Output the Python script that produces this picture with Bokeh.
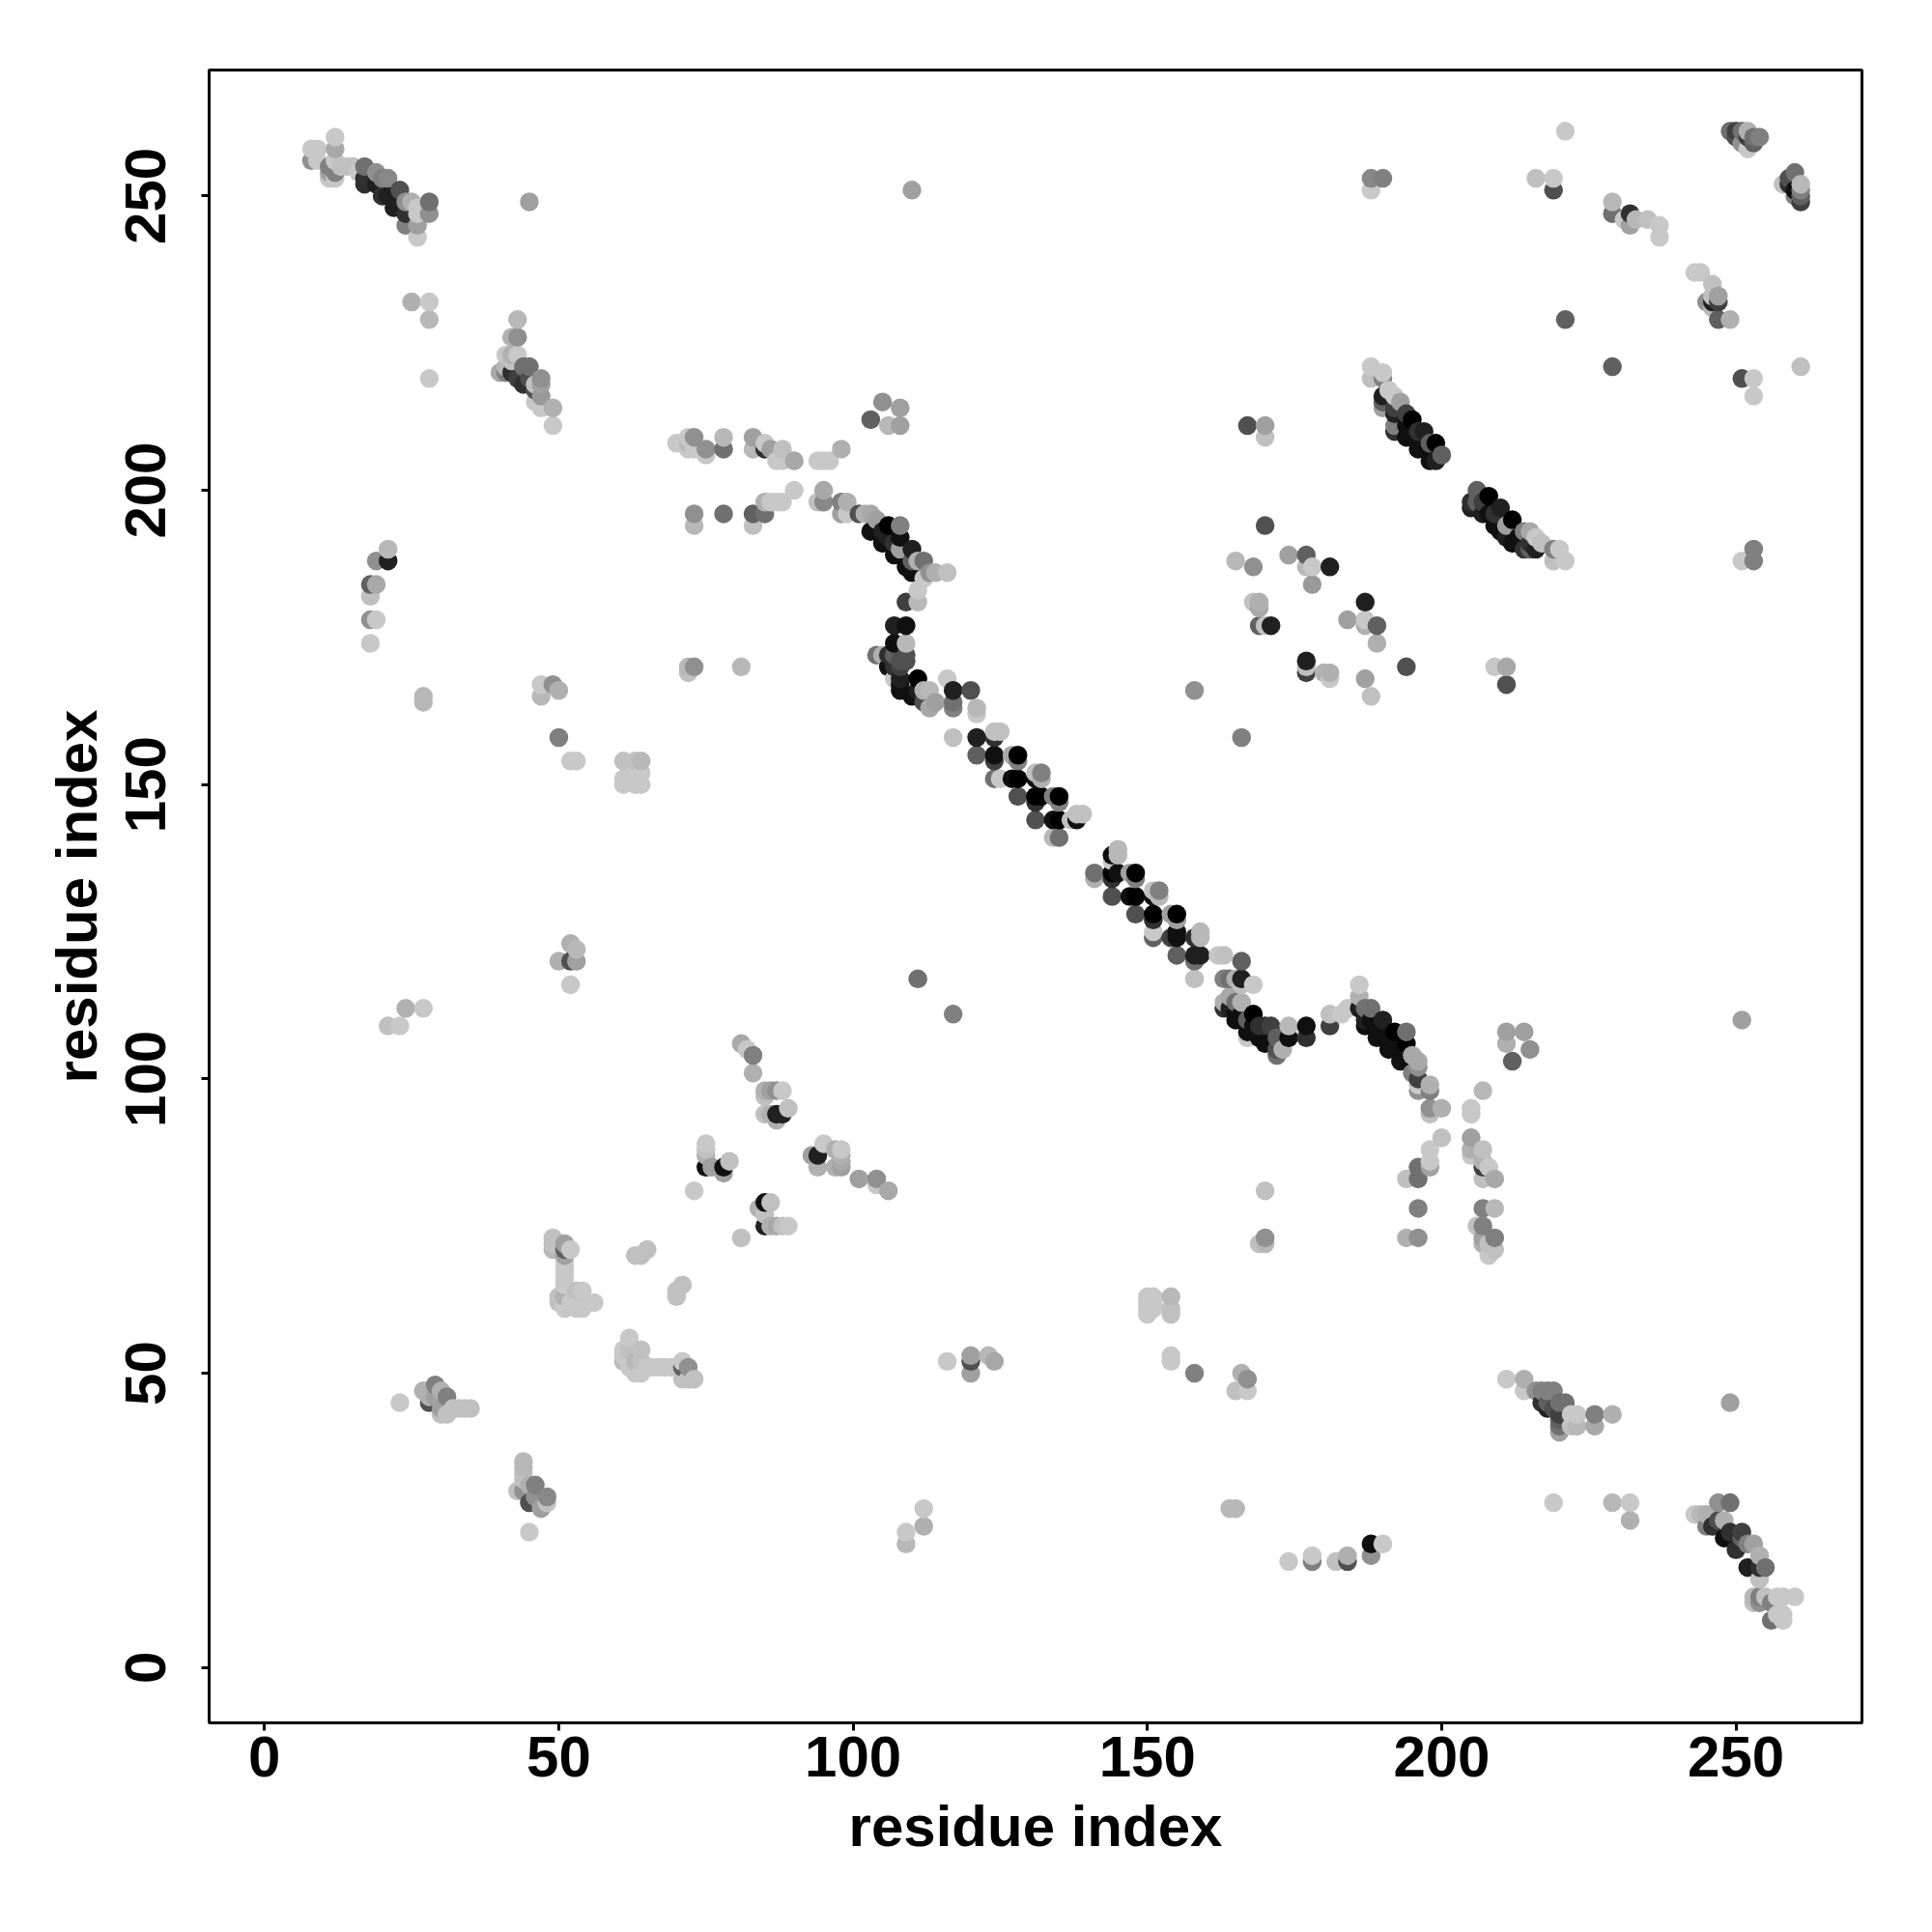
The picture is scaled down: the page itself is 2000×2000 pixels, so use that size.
from bokeh.plotting import figure
from bokeh.models import Range1d, FixedTicker, ColumnDataSource
from bokeh.embed import file_html
from bokeh.resources import INLINE

# (residue on x, residue on y, grey level 0-255)
top_left = [(8,258,0xc8),(9,258,0xc8),(8,256,0x90),(9,256,0xc8),(12,260,0xc8),(12,258,0xa8),(11,255,0x80),(11,254,0xa0),(11,253,0xc8),(12,256,0xc8),(12,254,0x80),(12,253,0xc8),(13,255,0xc0),(14,255,0xc0),(15,255,0xc0),(16,254,0xc8),
 (17,255,0x70),(17,253,0x30),(17,252,0x30),(19,254,0x90),(19,252,0x20),(20,253,0x80),(20,250,0x30),(21,253,0x88),(21,250,0x20),(22,250,0x20),(22,248,0x20),(23,251,0x50),(24,249,0x90),(24,247,0x30),(24,245,0x80),(25,249,0xb0),
 (26,248,0xc8),(26,247,0xc8),(26,245,0xa0),(26,243,0xc8),(28,249,0x70),(28,247,0x90)]
top_stray = [(45,249,0xa0),(25,232,0xb0),(28,232,0xc8),(28,229,0xb8),(28,219,0xc8),(110,251,0xa0)]
cluster_43 = [(43,229,0xb8),(42,226,0xb0),(43,226,0x90),(41,223,0xc8),(42,223,0xb0),(43,223,0xc8),(42,222,0xc0),(41,221,0xb8),(40,220,0xa8),(41,220,0x80),(42,220,0x30),(43,219,0x40),
 (44,218,0x30),(44,221,0x70),(45,221,0x70),(45,219,0x50),(46,217,0x50),(46,218,0xc0),(47,219,0x90),(47,218,0xa0),(47,216,0x99),(47,214,0xc8),(46,215,0xc8),(49,214,0xb0),(49,211,0xc8)]
row_208 = [(70,208,0xc8),(71,208,0xc8),(72,209,0xc8),(72,207,0xc8),(72,208,0xb8),(73,209,0x90),(73,207,0xc8),(75,207,0x90),(75,206,0xc8),(78,209,0xb8),(78,207,0x70),(83,209,0xa0),(83,207,0xb8),(85,208,0xc8),(85,207,0x30),(86,207,0xa0),(88,207,0xc0),(87,205,0xc8),(88,205,0xc8),(90,205,0xa8),(94,205,0xc8),(96,205,0xc8),(95,205,0xc8),(98,207,0xb0)]
row_198 = [(90,200,0xc8),(94,198,0xc0),(95,200,0xa8),(95,198,0x88),(85,198,0xb0),(86,198,0xc8),(87,198,0xc8),(88,198,0xc8),(83,196,0x60),(85,196,0x70),(83,194,0xc0),(73,196,0x90),(73,194,0xb8),(78,196,0x70),(98,198,0x80),(99,198,0xb0),(98,196,0xa0),(99,196,0xc8)]
left_arc = [(21,190,0xb8),(21,188,0x20),(19,188,0x90),(18,184,0x60),(19,184,0xa8),(18,182,0xc0),(18,178,0x90),(19,178,0xc8),(18,174,0xc8)]
left_mid = [(27,165,0xb8),(27,164,0xb8),(47,167,0xc8),(49,167,0x90),(50,166,0xb0),(47,165,0xb8),(50,158,0x80),(72,169,0xc0),(72,170,0xb8),(73,170,0x90),(81,170,0xb8),
 (52,154,0xc8),(53,154,0xc8),(61,154,0xc0),(63,154,0xc0),(64,154,0xb8),(61,150,0xc8),(63,150,0xc8),(64,150,0xc8),(61,151,0xc8),(63,152,0xc8),(64,152,0xc8)]
upper_mid = [(103,212,0x60),(105,215,0x90),(108,214,0xa0),(106,211,0xb8),(108,211,0xa0)]
top_right_a = [(188,253,0x88),(190,253,0x80),(188,251,0xc8),(221,261,0xc8),(216,253,0xc0),(219,253,0xc8),(219,251,0x50),(229,249,0xb8),(229,247,0x70),(232,247,0x30),(233,246,0xb8),(232,245,0xa0),(231,246,0xc8),(235,246,0xc0),(237,245,0xc8),(237,243,0xc8)]
top_right_b = [(249,261,0x70),(250,261,0x40),(251,261,0x70),(252,261,0xb0),(250,260,0x50),(251,259,0x90),(252,258,0xc8),(252,260,0x40),(253,259,0x60),(254,260,0x80),(253,260,0x70),
 (260,254,0x70),(258,252,0xc0),(259,252,0x30),(260,251,0x10),(259,253,0x50),(260,250,0x80),(261,252,0xb8),(261,251,0x80),(261,250,0x60),(261,249,0x40)]
top_right_c = [(243,237,0xc8),(244,237,0xc8),(246,235,0xc0),(246,233,0xc0),(247,233,0xa0),(245,232,0x90),(246,232,0x20),(247,232,0x40),(247,229,0x60),(249,229,0xb0),(246,231,0xb8)]
right_stray = [(221,229,0x60),(229,221,0x60),(251,219,0x50),(253,219,0xc8),(253,216,0xc8),(261,221,0xc0),(253,190,0x80),(253,188,0x80),(251,188,0xc8),(251,110,0xa0),(249,45,0xa0)]
diag_190 = [(188,221,0xc8),(190,220,0xc8),(188,219,0xc0),(190,219,0x80),(190,216,0x20),(190,215,0x60),(190,214,0xa0),(191,217,0xc8),(192,216,0xc8),(193,215,0xa0),(192,214,0x40),(192,213,0x20),(192,211,0x80),(192,210,0x30),(194,213,0x40),(195,212,0x00),(194,209,0x10),(194,211,0x10),(196,210,0x30),(197,210,0x20),(196,207,0x10),(198,208,0x60),(199,208,0x00),(200,206,0x60),(198,207,0x10),(198,205,0x10),(199,205,0x20)]
diag_205 = [(206,200,0x60),(205,198,0x30),(205,197,0x20),(208,199,0x00),(207,196,0x20),(210,197,0x20),(209,194,0x10),(212,195,0x00),(211,192,0x20),(214,193,0x80),(215,193,0xa8),(216,192,0xc8),(217,191,0xc0),(214,190,0x30),(215,191,0x30),(215,190,0x60),(216,190,0x20),(219,190,0x80),(220,190,0xc8),(219,188,0xc0),(221,188,0xc8),(206,198,0x60),(207,198,0x40),(208,196,0x10),(209,196,0x30),(210,193,0x10),(212,191,0x10),(211,194,0xa0),(213,192,0x10)]
middle_ring = [(167,211,0x50),(170,211,0xa0),(170,209,0xc0),(170,194,0x50),(165,188,0xb8),(168,187,0x90),(174,189,0xa0),(177,189,0x60),(177,187,0xb8),(178,187,0xc8),(181,187,0x20),(178,184,0x99),
 (187,181,0x20),(184,178,0xa0),(187,178,0xc8),(187,177,0xb0),(189,177,0x60),(189,174,0xb0),(168,181,0xc0),(169,181,0xb0),(169,180,0xa8),(169,177,0x60),(170,177,0xc0),(171,177,0x20),
 (177,171,0x20),(177,169,0x40),(177,170,0xc0),(180,169,0xb0),(181,169,0xb0),(181,168,0xc8),(187,168,0xa0),(188,165,0xc0),(194,170,0x50),(209,170,0xc8),(211,170,0xa8),(211,167,0x50),(158,166,0x90),(166,158,0x80)]
diag_103 = [(101,196,0x50),(102,196,0xb0),(103,196,0xa8),(104,195,0xa0),(106,194,0x00),(108,194,0x80),(103,193,0x10),(104,193,0x10),(105,193,0x20),(105,191,0x10),(106,192,0x20),(108,192,0x10),(107,191,0x30),(107,189,0x10),(108,190,0xa0),(110,190,0x20),(109,187,0x10),(110,188,0x60),(110,186,0x10),(111,188,0xb0),(112,188,0x70),(113,186,0x90),(114,186,0xb0),(116,186,0xc0),(112,185,0xc8),(111,183,0xc8),(111,181,0xb8),(109,181,0x40)]
diag_107 = [(107,177,0x20),(109,177,0x10),(107,174,0x10),(109,174,0xb8),(104,172,0x70),(105,172,0xb0),(106,172,0x30),(107,172,0x60),(109,172,0x50),(109,171,0x50),(108,171,0x50),(106,170,0x10),(107,170,0x30),(108,170,0x40),(108,168,0x20),(107,168,0xc8),(108,167,0x10),(108,166,0x10),(111,168,0x00),(110,165,0x10),(111,166,0x20),(112,166,0xb0),(113,166,0xb8),(112,164,0x50),(113,163,0xa8),(114,164,0xa0),(116,168,0xc8),(117,166,0x20),(117,164,0x70),(117,163,0x80),(120,166,0x50),(121,163,0xb8),(121,162,0xc8)]
diag_120 = [(117,158,0xc0),(121,158,0x20),(121,155,0x60),(124,159,0xc0),(125,159,0xc0),(124,158,0x30),(124,155,0x10),(124,154,0x40),(127,155,0xa8),(128,155,0x00),(128,154,0x80),(124,151,0x70),(125,151,0xc8),(127,151,0x10),(128,151,0x00),(128,148,0x50),(131,152,0xc0),(132,152,0x80),(132,151,0xb0),(131,151,0x10),(131,148,0x00),(132,148,0x00),(131,147,0x30),(134,148,0x80),(135,148,0x00),(135,147,0x80),(131,144,0x50),(134,144,0x10),(135,144,0x00),(137,144,0xc0),(138,144,0x10),(138,145,0xc0),(139,145,0xc0),(134,141,0xb8),(135,141,0x70)]
diag_145 = [(145,139,0xb8),(145,138,0xb8),(144,138,0x10),(144,137,0xc8),(141,135,0x70),(141,134,0xb0),(144,135,0x00),(145,135,0x10),(144,134,0x30),(147,135,0xa0),(148,135,0x00),(148,134,0x80),(144,131,0x50),(147,131,0x10),(148,131,0x00),(151,132,0xc0),(152,132,0x80),(152,131,0xb8),(151,131,0x10),(148,128,0x50),(151,128,0x00),(151,127,0x30),(154,128,0xa0),(155,128,0x00),(155,127,0xa0),(151,125,0xc8),(151,124,0x60),(154,124,0x40),(155,125,0x10),(155,124,0x10),(158,124,0x30),(159,125,0xb8),(159,124,0xb8),(155,121,0x60),(158,121,0x20),(159,121,0x20),(158,120,0x70),(158,117,0xc0)]
diag_163 = [(162,121,0xc8),(163,121,0xc0),(166,120,0x60),(163,117,0x80),(164,117,0x70),(165,117,0xb0),(166,117,0x20),(166,116,0xc0),(168,116,0xc8),(163,113,0xb0),(164,114,0xa8),(165,113,0x70),(166,113,0xb0),(163,112,0x30),(164,112,0x20),(165,111,0x10),(165,110,0x10),(166,111,0x10),(166,110,0x10),(168,111,0x00),(167,110,0x60),(167,108,0x10),(167,107,0xc8),(168,109,0x10),(169,109,0x30),(169,107,0x10),(170,109,0x30),(171,109,0x40),(170,106,0x10),(171,106,0x10),(172,107,0x60),(172,105,0x50),(172,104,0x70),(173,105,0xb0),(174,109,0xb8),(174,107,0x10),(177,109,0x10),(177,107,0x30)]
diag_181 = [(181,109,0x40),(181,111,0xc0),(183,111,0xc8),(184,112,0xc8),(186,116,0xc8),(186,114,0xb0),(186,112,0x20),(187,112,0x70),(188,112,0x70),(187,109,0x10),(187,110,0x20),(188,110,0x10),(190,110,0x20),(189,107,0x10),(189,109,0x10),(190,108,0x10),(192,108,0x00),(191,105,0x10),(191,107,0x10),(192,106,0x10),(194,108,0x70),(194,106,0x00),(193,103,0x10),(193,105,0x10),(195,104,0xa8),(195,101,0x80),(196,103,0xa8),(196,102,0x90),(196,100,0x40),(196,99,0xc8),(196,98,0x90),(198,99,0xb0),(198,98,0x80),(198,95,0x90),(198,94,0xc0),(200,95,0xb0)]
cross_205 = [(207,98,0xb8),(205,95,0xc8),(205,94,0xc8),(205,90,0xa0),(205,88,0xb0),(205,87,0xc8),(207,88,0xc0),(207,86,0xb0),(208,85,0xc8),(207,85,0x40),(207,83,0xc0),(209,83,0xa8),(207,78,0x80),(209,78,0xb8),(206,75,0xc0),(207,75,0x80),(207,73,0xa0),(209,73,0x80),(207,72,0xb0),(209,71,0xc0),(208,70,0xc8),(208,72,0xc0)]
cross_196 = [(200,90,0xc0),(198,88,0xc8),(198,86,0xc8),(198,85,0xa0),(196,85,0x70),(196,83,0x70),(194,83,0xc0),(196,78,0x80),(194,73,0xb0),(196,73,0x90)]
right_108 = [(211,108,0xa0),(214,108,0xa0),(211,106,0xb0),(215,105,0x90),(212,103,0x60)]
lower_mid = [(170,81,0xc0),(170,73,0x90),(169,72,0xc0),(170,72,0xb8),(111,117,0x70),(117,111,0x80),(104,83,0x90),(106,81,0xa8),(101,83,0xa0),(104,82,0xc8),
 (150,63,0xc8),(151,63,0xc8),(150,62,0xc8),(151,62,0xc8),(150,61,0xc8),(151,61,0xc8),(150,60,0xc8),(154,63,0xb8),(154,61,0xc0),(154,60,0xc0),
 (116,52,0xc8),(120,53,0xa0),(120,52,0x50),(120,50,0xa0),(123,53,0xb8),(124,52,0xa8),(154,53,0xc8),(154,52,0xc8),(158,50,0x80),(166,50,0xb0),(167,49,0x90),(165,47,0xc0),(167,47,0xc8)]
bottom_right_a = [(211,49,0xc8),(214,49,0xb0),(214,47,0xc8),(216,47,0x90),(217,47,0x80),(218,47,0x80),(219,47,0x80),(217,45,0x30),(218,44,0x20),(218,45,0x60),(219,44,0x50),(220,45,0x70),(221,45,0x70),(220,43,0x40),(220,42,0x60),(220,41,0x70),(220,40,0xa0),(222,43,0xc8),(223,43,0xc8),(222,41,0xc0),(223,41,0xb8),(226,43,0x80),(226,41,0xa8),(229,43,0xb0)]
bottom_right_b = [(219,28,0xc8),(229,28,0xb8),(232,28,0xc8),(232,25,0xb0),(243,26,0xc8),(244,26,0xb8),(245,26,0xb0),(245,24,0x80),(247,28,0x90),(249,28,0x70),(247,25,0x50),(248,25,0xb0),(246,24,0x30),(248,22,0x10),(249,23,0x30),(251,23,0x40),(250,20,0x30),(251,22,0x60),(252,21,0x80),(253,21,0xa0),(254,19,0xb0),(255,17,0x70),(252,17,0x20),(254,17,0x30),(254,15,0xc0),(253,12,0xb8),(253,11,0xc0),(254,12,0x80),(254,11,0x90),(255,12,0xc0),(256,11,0x80),(257,12,0xc8),(258,12,0xc8),(260,12,0xc8),(256,8,0x70),(257,9,0xc8),(258,9,0xc8),(258,8,0xc8)]
bottom_row = [(188,21,0x10),(190,21,0xc8),(188,19,0x90),(184,19,0xb0),(184,18,0x50),(182,18,0xc0),(178,19,0xc8),(178,18,0x80),(174,18,0xc8),(164,27,0xb8),(165,27,0xb8),(112,27,0xc8),(112,24,0xb0),(109,23,0xc8),(109,21,0xb8)]
lower_left_a = [(23,45,0xc8),(27,47,0xb0),(28,46,0xb0),(28,45,0x50),(29,48,0x80),(29,46,0xa0),(30,44,0xa0),(30,47,0xb0),(31,46,0x80),(31,43,0xc0),(30,43,0xc0),(32,44,0xc0),(33,44,0xc0),(34,44,0xc0),(35,44,0xc0)]
lower_left_b = [(44,35,0xb8),(44,34,0xb8),(44,33,0xc0),(44,32,0xc0),(43,30,0xc0),(44,30,0x90),(45,28,0x50),(45,31,0xb0),(46,31,0x80),(46,29,0x90),(47,27,0xa0),(48,29,0x88),(48,28,0xc0),(45,23,0xc8)]
column_50 = [(49,73,0xc0),(49,72,0xc0),(49,71,0xb8),(51,72,0xa0),(51,71,0x60),(51,70,0xa0),(52,71,0xc8),(51,69,0xc8),(51,68,0xc8),(51,67,0xc8),(51,66,0xc8),(51,65,0xc8),(50,63,0xc0),(50,62,0xc0),(51,63,0xb0),(51,61,0xc8),(52,62,0xc8),(53,64,0xc0),(54,64,0xc8),(53,61,0xc8),(54,61,0xc8),(53,62,0xc8),(56,62,0xc8)]
mid_pairs = [(63,70,0xc0),(64,70,0xc0),(65,71,0xc0),(70,63,0xc0),(71,65,0xc0),(70,64,0xc0)]
row_51 = [(62,56,0xc8),(61,54,0xc8),(61,53,0xc8),(61,52,0xb8),(62,54,0xc0),(62,51,0xc8),(63,52,0xb8),(63,50,0xc8),(64,54,0xc0),(64,52,0xc0),(64,50,0xc8),(65,51,0xc8),(66,51,0xc8),(67,51,0xc8),(68,51,0xc8),(69,51,0xc8),(70,51,0xc8),(71,52,0xc8),(71,51,0x60),(72,51,0x90),(71,49,0xc0),(72,49,0xc0),(73,49,0xc0)]
short_left = [(24,112,0xb0),(27,112,0xc8),(21,109,0xc0),(23,109,0xc8),(52,116,0xc8),(52,123,0xb0),(53,122,0xb8),(50,120,0xb0),(52,120,0x50),(53,120,0xa0)]
cluster_85a = [(81,106,0xa8),(83,104,0x80),(82,105,0xc8),(83,101,0xb0),(85,98,0xb0),(85,97,0xc0),(87,98,0x90),(86,98,0xa0),(88,98,0xc8),(85,94,0xc0),(86,94,0xb0),(87,94,0x20),(88,94,0x20),(89,95,0xc0),(87,93,0xb0)]
cluster_75 = [(75,89,0xc8),(75,88,0xc0),(75,87,0xb0),(75,85,0x10),(76,85,0xa0),(78,84,0xa0),(78,85,0x10),(79,86,0xc0),(73,81,0xc8)]
cluster_94 = [(94,87,0x20),(93,87,0xa0),(95,89,0xc8),(94,85,0xb0),(97,85,0xb0),(97,88,0xb0),(98,88,0xc8),(98,87,0xb0),(98,86,0xa8),(98,85,0xa0)]
cluster_85b = [(85,79,0x10),(86,79,0xc0),(84,78,0xb0),(85,77,0xc0),(85,75,0x20),(86,75,0xb0),(87,75,0xa8),(88,75,0xc0),(89,75,0xc8),(81,73,0xc0)]

tick_labels = [0, 50, 100, 150, 200, 250]
axis_title = "residue index"

points = (top_left + top_stray + cluster_43 + row_208 + row_198 + left_arc + left_mid + upper_mid + top_right_a + top_right_b
          + top_right_c + right_stray + diag_190 + diag_205 + middle_ring + diag_103 + diag_107 + diag_120 + diag_145 + diag_163
          + diag_181 + cross_205 + cross_196 + right_108 + lower_mid + bottom_right_a + bottom_right_b + bottom_row
          + lower_left_a + lower_left_b + column_50 + mid_pairs + row_51 + short_left + cluster_85a + cluster_75 + cluster_94 + cluster_85b)
points = sorted(points, key=lambda t: (t[0], t[1]))

src = ColumnDataSource(dict(x=[t[0] for t in points], y=[t[1] for t in points],
                            c=["#%02x%02x%02x" % (t[2], t[2], t[2]) for t in points]))

p = figure(frame_width=1711, frame_height=1711, x_range=Range1d(-9.4, 271.4), y_range=Range1d(-9.4, 271.4),
           output_backend="svg", toolbar_location=None, min_border_left=216, min_border_top=72,
           min_border_right=20, min_border_bottom=145, background_fill_color="white", border_fill_color="white")
p.scatter("x", "y", source=src, size=19.5, fill_color="c", line_color=None)

p.grid.visible = False
p.outline_line_color = "black"
p.outline_line_width = 3
for ax in (p.xaxis[0], p.yaxis[0]):
    ax.ticker = FixedTicker(ticks=tick_labels)
    ax.axis_label = axis_title
    ax.axis_label_text_font = "Liberation Sans"
    ax.axis_label_text_font_style = "bold"
    ax.axis_label_text_font_size = "60px"
    ax.axis_label_text_color = "black"
    ax.major_label_text_font = "Liberation Sans"
    ax.major_label_text_font_style = "bold"
    ax.major_label_text_font_size = "60px"
    ax.major_label_text_color = "black"
    ax.axis_line_color = None
    ax.major_tick_line_color = "black"
    ax.major_tick_line_width = 3
    ax.major_tick_out = 8
    ax.major_tick_in = 0
    ax.minor_tick_line_color = None
    ax.major_label_standoff = 6
    ax.axis_label_standoff = 15
p.yaxis[0].major_label_orientation = "vertical"
p.yaxis[0].major_label_standoff = 37

open("out.html", "w").write(file_html(p, INLINE))
